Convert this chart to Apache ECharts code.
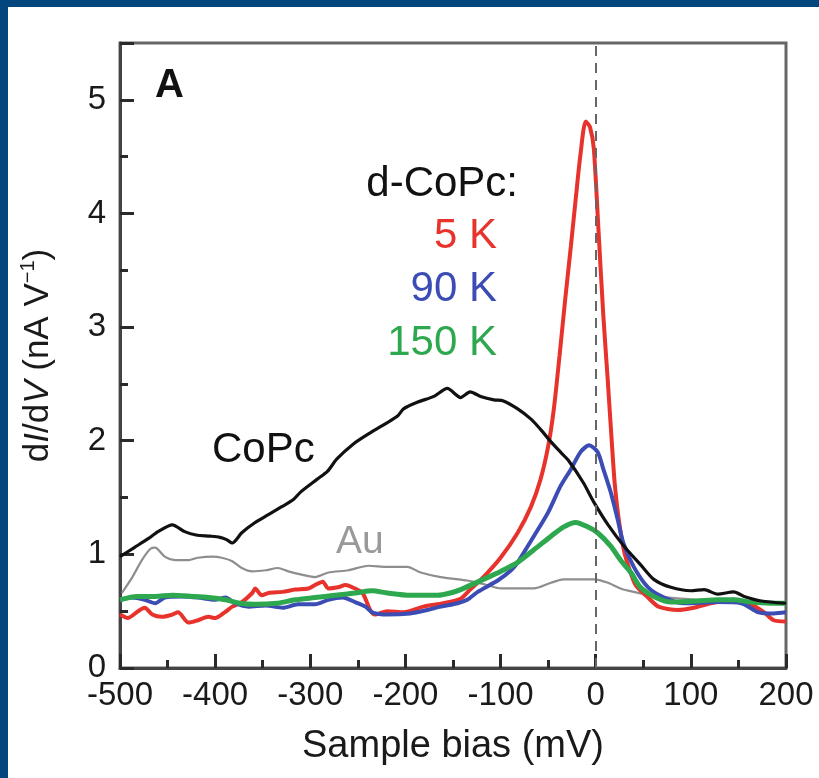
<!DOCTYPE html>
<html>
<head>
<meta charset="utf-8">
<script src="https://cdn.jsdelivr.net/npm/echarts@6/dist/echarts.min.js"></script>
<style>
  html, body { margin: 0; padding: 0; }
  #wrap { position: relative; width: 819px; height: 778px; background: #fff; overflow: hidden; }
  #chart { position: absolute; left: 0; top: 0; width: 819px; height: 778px; }
  .edge { position: absolute; background: #03457d; }
</style>
</head>
<body>
<div id="wrap">
  <div id="chart"></div>
  <div class="edge" style="left:0;top:0;width:819px;height:7px"></div>
  <div class="edge" style="left:0;top:0;width:8px;height:778px"></div>
</div>
<script>
// sample bias in mV, dI/dV in nA/V
const copcBias = [-500, -485, -470, -460, -445, -432, -420, -405, -395, -388, -382, -372, -358, -344, -330, -318, -310, -293, -282, -272, -255, -237, -219, -208, -202, -187, -170, -156, -142, -132, -121, -107, -97, -82, -68, -58, -47, -37, -29, -13, -2, 13, 30, 47, 61, 79, 100, 114, 128, 145, 156, 174, 200]
const copcVal = [0.98, 1.06, 1.14, 1.20, 1.26, 1.20, 1.17, 1.16, 1.15, 1.13, 1.10, 1.19, 1.28, 1.35, 1.42, 1.48, 1.55, 1.66, 1.73, 1.84, 1.97, 2.07, 2.16, 2.22, 2.28, 2.34, 2.39, 2.46, 2.38, 2.43, 2.39, 2.36, 2.35, 2.28, 2.19, 2.10, 1.99, 1.90, 1.83, 1.63, 1.46, 1.26, 1.07, 0.91, 0.78, 0.71, 0.68, 0.69, 0.65, 0.67, 0.63, 0.59, 0.57]

const auBias = [-498, -487, -477, -468, -463, -453, -442, -428, -418, -403, -393, -382, -372, -361, -347, -334, -323, -308, -295, -281, -260, -239, -219, -198, -184, -163, -135, -114, -100, -65, -47, -34, -2, 13, 26, 40, 58, 89, 132, 174, 200]
const auVal = [0.66, 0.80, 0.95, 1.05, 1.06, 0.98, 0.95, 0.95, 0.97, 0.98, 0.97, 0.94, 0.88, 0.85, 0.86, 0.88, 0.85, 0.82, 0.80, 0.84, 0.86, 0.90, 0.89, 0.89, 0.84, 0.80, 0.77, 0.73, 0.70, 0.70, 0.75, 0.78, 0.78, 0.75, 0.70, 0.67, 0.64, 0.61, 0.59, 0.58, 0.56]

const k5Bias = [-500, -492, -481, -474, -466, -456, -445, -439, -428, -418, -407, -400, -390, -382, -372, -361, -358, -351, -344, -329, -316, -302, -295, -287, -281, -271, -263, -253, -245, -237, -232, -219, -202, -181, -160, -142, -132, -118, -100, -82, -68, -58, -50, -44, -38, -32, -26, -21, -16, -10.5, -6, -2, 3, 8, 12.6, 16.8, 20, 24, 29.5, 35, 42, 55, 66, 86, 103, 121, 145, 163, 177, 187, 200]
const k5Val = [0.47, 0.44, 0.50, 0.53, 0.47, 0.45, 0.47, 0.49, 0.40, 0.42, 0.45, 0.44, 0.49, 0.54, 0.58, 0.66, 0.70, 0.64, 0.66, 0.67, 0.69, 0.70, 0.73, 0.76, 0.70, 0.71, 0.73, 0.70, 0.66, 0.51, 0.47, 0.50, 0.49, 0.54, 0.57, 0.61, 0.69, 0.80, 0.97, 1.19, 1.42, 1.66, 1.95, 2.28, 2.75, 3.25, 3.72, 4.13, 4.52, 4.81, 4.76, 4.57, 3.84, 3.10, 2.54, 2.00, 1.62, 1.32, 1.04, 0.88, 0.73, 0.62, 0.54, 0.51, 0.53, 0.57, 0.60, 0.56, 0.49, 0.42, 0.41]

const k90Bias = [-500, -487, -474, -463, -453, -435, -418, -400, -389, -379, -365, -347, -329, -313, -295, -281, -266, -253, -242, -235, -219, -195, -177, -163, -145, -135, -124, -103, -89, -82, -65, -50, -37, -26, -16, -7, 2, 8, 16, 23, 29, 40, 55, 72, 93, 128, 153, 171, 187, 200]
const k90Val = [0.60, 0.62, 0.60, 0.57, 0.62, 0.63, 0.62, 0.60, 0.62, 0.57, 0.54, 0.55, 0.53, 0.56, 0.56, 0.60, 0.62, 0.58, 0.54, 0.49, 0.47, 0.48, 0.51, 0.54, 0.57, 0.60, 0.67, 0.77, 0.86, 0.93, 1.16, 1.37, 1.60, 1.75, 1.90, 1.96, 1.90, 1.75, 1.54, 1.31, 1.10, 0.89, 0.71, 0.62, 0.57, 0.58, 0.57, 0.49, 0.48, 0.49]

const k150Bias = [-500, -482, -463, -445, -424, -407, -389, -374, -358, -335, -316, -295, -274, -253, -235, -219, -195, -166, -153, -142, -118, -100, -82, -65, -47, -34, -21, -8, 2, 16, 26, 37, 47, 61, 79, 107, 128, 145, 163, 184, 200]
const k150Val = [0.60, 0.63, 0.63, 0.64, 0.63, 0.62, 0.60, 0.57, 0.56, 0.57, 0.60, 0.62, 0.64, 0.66, 0.68, 0.66, 0.64, 0.64, 0.66, 0.69, 0.78, 0.85, 0.93, 1.04, 1.16, 1.24, 1.28, 1.24, 1.19, 1.07, 0.95, 0.84, 0.71, 0.63, 0.58, 0.59, 0.60, 0.60, 0.58, 0.57, 0.57]

const xTicks = { min: -500, max: 200, step: 100 }
const yTicks = { min: 0, max: 5.5, step: 1 }

const font = 'Liberation Sans, Arial, sans-serif'

function pairs(xs, ys) {
  return xs.map((x, i) => [x, ys[i]])
}

function curve(name, xs, ys, color, width, extra) {
  return Object.assign({
    name,
    type: 'line',
    data: pairs(xs, ys),
    showSymbol: false,
    smooth: 0.25,
    lineStyle: { color, width },
    itemStyle: { color },
    z: 3,
  }, extra || {})
}

function label(text, x, y, color, size, align, bold) {
  return {
    type: 'text',
    x,
    y,
    z: 10,
    style: {
      text,
      fill: color,
      font: (bold ? 'bold ' : '') + size + 'px ' + font,
      align: align || 'left',
      verticalAlign: 'middle',
    },
  }
}

const tickStyle = { color: '#2a2a2a', width: 3 }

const chart = echarts.init(document.getElementById('chart'))

chart.setOption({
  backgroundColor: '#fff',
  animation: false,
  grid: {
    left: 120,
    right: 33,
    top: 43,
    bottom: 110,
    show: true,
    borderColor: '#666',
    borderWidth: 3,
    backgroundColor: 'transparent',
  },
  xAxis: {
    type: 'value',
    min: xTicks.min,
    max: xTicks.max,
    interval: xTicks.step,
    name: 'Sample bias (mV)',
    nameLocation: 'middle',
    nameGap: 60,
    nameTextStyle: { fontFamily: font, fontSize: 38, color: '#1a1a1a' },
    axisLine: { onZero: false, lineStyle: { color: '#444', width: 3 } },
    axisTick: { show: true, inside: true, length: 14, lineStyle: tickStyle },
    minorTick: { show: true, splitNumber: 2, length: 8, lineStyle: tickStyle },
    splitLine: { show: false },
    axisLabel: { fontFamily: font, fontSize: 33, color: '#1a1a1a', margin: 11 },
  },
  yAxis: {
    type: 'value',
    min: yTicks.min,
    max: yTicks.max,
    interval: yTicks.step,
    name: '{a|d}{i|I}{a|/d}{i|V}{a| (nA V}{s|−1}{a|)}',
    nameLocation: 'middle',
    nameGap: 62,
    nameRotate: 90,
    nameTextStyle: {
      rich: {
        a: { fontFamily: font, fontSize: 35, color: '#1a1a1a', lineHeight: 40 },
        i: { fontFamily: font, fontSize: 35, color: '#1a1a1a', fontStyle: 'italic', lineHeight: 40 },
        s: { fontFamily: font, fontSize: 20, color: '#1a1a1a', lineHeight: 20, verticalAlign: 'top' },
      },
    },
    axisLine: { onZero: false, lineStyle: { color: '#444', width: 3 } },
    axisTick: { show: true, inside: true, length: 14, lineStyle: tickStyle },
    minorTick: { show: true, splitNumber: 2, length: 8, lineStyle: tickStyle },
    splitLine: { show: false },
    axisLabel: { fontFamily: font, fontSize: 33, color: '#1a1a1a', margin: 14, showMaxLabel: false },
  },
  series: [
    curve('Au', auBias, auVal, '#8e8e8e', 2.2),
    curve('5 K', k5Bias, k5Val, '#e8322c', 4),
    curve('90 K', k90Bias, k90Val, '#3b4cb4', 4),
    curve('150 K', k150Bias, k150Val, '#2ea84f', 5),
    curve('CoPc', copcBias, copcVal, '#111', 3.2, {
      markLine: {
        silent: true,
        symbol: 'none',
        label: { show: false },
        lineStyle: { color: '#666', width: 2, type: [10, 7] },
        data: [{ xAxis: 0 }],
      },
    }),
  ],
  graphic: [
    label('A', 155, 86, '#111', 40, 'left', true),
    label('d-CoPc:', 518, 184, '#111', 42, 'right'),
    label('5 K', 497, 236, '#e8322c', 42, 'right'),
    label('90 K', 497, 289, '#3b4cb4', 42, 'right'),
    label('150 K', 497, 343, '#2ea84f', 42, 'right'),
    label('CoPc', 212, 450, '#111', 42, 'left'),
    label('Au', 336, 542, '#999', 39, 'left'),
  ],
})
</script>
</body>
</html>
